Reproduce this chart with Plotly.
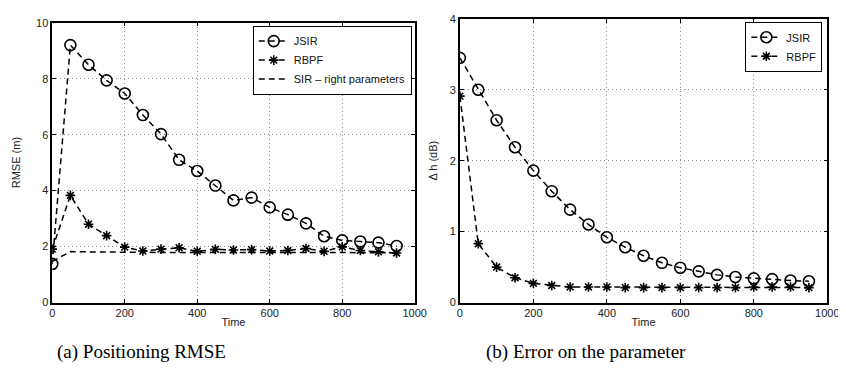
import plotly.graph_objects as go

time = [0, 50, 100, 150, 200, 250, 300, 350, 400, 450, 500, 550, 600, 650, 700, 750, 800, 850, 900, 950]

rmse_jsir = [1.38, 9.2, 8.5, 7.94, 7.47, 6.7, 6.02, 5.1, 4.7, 4.18, 3.65, 3.75, 3.4, 3.14, 2.83, 2.37, 2.22, 2.18, 2.14, 2.02]
rmse_rbpf = [1.91, 3.83, 2.8, 2.39, 1.98, 1.84, 1.91, 1.96, 1.83, 1.9, 1.88, 1.89, 1.84, 1.86, 1.93, 1.83, 1.99, 1.86, 1.81, 1.77]
rmse_sir = [1.47, 1.82, 1.81, 1.8, 1.79, 1.78, 1.79, 1.79, 1.78, 1.79, 1.79, 1.78, 1.79, 1.79, 1.79, 1.78, 1.79, 1.79, 1.78, 1.78]

dh_jsir = [3.45, 3.0, 2.57, 2.19, 1.86, 1.57, 1.31, 1.1, 0.92, 0.78, 0.66, 0.56, 0.49, 0.44, 0.39, 0.36, 0.34, 0.33, 0.31, 0.3]
dh_rbpf = [2.91, 0.83, 0.5, 0.35, 0.27, 0.24, 0.22, 0.22, 0.22, 0.21, 0.21, 0.21, 0.21, 0.21, 0.21, 0.21, 0.22, 0.22, 0.22, 0.21]

W, H = 846, 378
FONT = "Liberation Sans, Arial, sans-serif"
SERIF = "Liberation Serif, Times New Roman, serif"
DASH = "6px,4px"

fig = go.Figure()

def add(x, y, name, symbol, xa, ya, leg, msize):
    mode = "lines+markers" if symbol else "lines"
    fig.add_trace(go.Scatter(
        x=x, y=y, name=name, mode=mode, xaxis=xa, yaxis=ya, legend=leg,
        line=dict(color="black", width=1.5, dash=DASH),
        marker=dict(symbol=symbol or "circle", size=msize, color="black",
                    line=dict(color="black", width=1.6)),
    ))

add(time, rmse_jsir, "JSIR", "circle-open", "x", "y", "legend", 11)
add(time, rmse_rbpf, "RBPF", "asterisk-open", "x", "y", "legend", 8)
add(time, rmse_sir, "SIR \u2013 right parameters", None, "x", "y", "legend", 8)
add(time, dh_jsir, "JSIR", "circle-open", "x2", "y2", "legend2", 11)
add(time, dh_rbpf, "RBPF", "asterisk-open", "x2", "y2", "legend2", 8)

def px_x(p):
    return p / W

def px_y(p):
    return 1 - p / H

axis_common = dict(
    showline=True, linecolor="black", linewidth=1.5, mirror="ticks",
    ticks="inside", ticklen=4, tickcolor="black", tickwidth=1,
    showgrid=True, gridcolor="#8a8a8a", griddash="1px,3px", gridwidth=1,
    zeroline=False, tickfont=dict(family=FONT, size=11, color="#222"),
)

fig.update_layout(
    width=W, height=H, margin=dict(l=0, r=0, t=0, b=0),
    paper_bgcolor="white", plot_bgcolor="white",
    font=dict(family=FONT, size=11, color="#222"),
    xaxis=dict(domain=[px_x(42), px_x(411)], range=[0, 1000], dtick=200,
               title=dict(text="Time", standoff=0, font=dict(size=11)), **axis_common),
    yaxis=dict(domain=[px_y(298), px_y(9)], range=[0, 10], dtick=2,
               title=dict(text="RMSE (m)", standoff=13, font=dict(size=11)), **axis_common),
    xaxis2=dict(domain=[px_x(457), px_x(831)], range=[0, 1000], dtick=200, anchor="y2",
                title=dict(text="Time", standoff=0, font=dict(size=11)), **axis_common),
    yaxis2=dict(domain=[px_y(298), px_y(5)], range=[0, 4], dtick=1, anchor="x2",
                title=dict(text="\u0394 h (dB)", standoff=10, font=dict(size=11)), **axis_common),
    legend=dict(x=px_x(408), y=px_y(12), xanchor="right", yanchor="top",
                bgcolor="white", bordercolor="black", borderwidth=1,
                font=dict(family=FONT, size=11, color="#111"),
                itemwidth=30, tracegroupgap=0),
    legend2=dict(x=px_x(826), y=px_y(8), xanchor="right", yanchor="top",
                 bgcolor="white", bordercolor="black", borderwidth=1,
                 font=dict(family=FONT, size=11, color="#111"),
                 itemwidth=30, tracegroupgap=0),
    annotations=[
        dict(text="(a) Positioning RMSE", x=px_x(133), y=px_y(349), xref="paper", yref="paper",
             xanchor="center", yanchor="middle",
             showarrow=False, font=dict(family=SERIF, size=19, color="black")),
        dict(text="(b) Error on the parameter", x=px_x(585), y=px_y(349), xref="paper", yref="paper",
             xanchor="center", yanchor="middle",
             showarrow=False, font=dict(family=SERIF, size=19, color="black")),
    ],
)

fig.write_html("out.html")
